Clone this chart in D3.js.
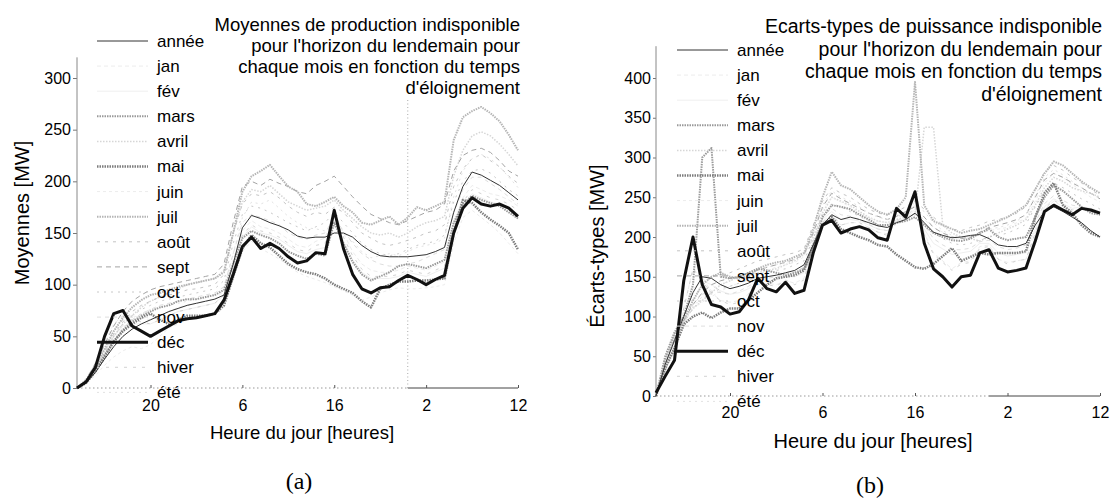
<!DOCTYPE html>
<html>
<head>
<meta charset="utf-8">
<script src="https://cdn.jsdelivr.net/npm/d3@7"></script>
<style>
  body { margin: 0; background: #fff; }
  text { font-family: "Liberation Sans", Arial, sans-serif; fill: #000; }
</style>
</head>
<body>
<svg id="chart" width="1110" height="503"></svg>
<script>
// Hours since the start of the forecast day (13h today ... 12h two days later)
const hours = [12,13,14,15,16,17,18,19,20,21,22,23,24,25,26,27,28,29,30,31,32,33,34,35,36,
               37,38,39,40,41,42,43,44,45,46,47,48,49,50,51,52,53,54,55,56,57,58,59,60];
const xTickHours = [20, 30, 40, 50, 60];
const xTickLabels = ["20", "6", "16", "2", "12"];
const seriesNames = ["année","jan","fév","mars","avril","mai","juin","juil","août","sept","oct","nov","déc","hiver","été"];
const meanTicks = [0, 50, 100, 150, 200, 250, 300];
const stdTicks = [0, 50, 100, 150, 200, 250, 300, 350, 400];

// Moyennes [MW]
const meanAnnee = [0,5,15,28,40,50,57,62,66, 70,74,77,80,82,84,86,90, 120,155,167,164,160,157,153,147, 145,146,146,150,150,146,138,132, 128,127,127,127,128,129,132,136, 170,195,209,206,201,196,189,182];
const meanJan   = [0,7,22,44,62,70,70,68,66, 70,74,78,80,82,84,86,94, 124,152,162,156,154,150,144,138, 136,142,145,170,150,132,120,114, 112,112,114,118,116,114,118,122, 160,184,196,192,188,186,182,176];
const meanFev   = [0,6,16,34,50,60,62,62,62, 66,70,74,76,78,80,82,90, 118,146,156,150,148,144,138,132, 130,134,136,162,142,124,112,106, 106,106,108,112,110,108,112,116, 152,176,188,184,180,178,174,168];
const meanMars  = [0,6,18,32,45,56,64,70,74, 78,80,84,86,86,88,90,95, 120,145,152,148,145,140,132,128, 125,130,128,160,140,122,110,104, 108,112,118,120,118,116,120,124, 160,178,186,182,179,176,170,164];
const meanAvril = [0,7,20,36,50,62,70,78,84, 88,92,96,100,102,104,106,114, 150,180,192,190,196,188,180,176, 172,174,176,182,172,164,156,150, 148,150,146,150,156,160,162,166, 205,230,244,248,244,236,226,215];
const meanMai   = [0,5,16,30,45,55,62,68,72, 66,62,66,70,70,70,72,80, 108,135,148,140,136,128,120,115, 112,110,106,100,96,92,84,78, 96,100,103,103,104,104,105,106, 150,182,179,170,163,157,150,134];
const meanJuin  = [0,4,12,22,30,36,40,38,42, 50,58,62,66,68,70,70,78, 105,132,142,135,130,125,118,112, 108,105,102,98,94,90,85,88, 92,95,97,96,96,97,98,100, 140,165,172,165,158,150,140,130];
const meanJuil  = [0,8,22,38,55,68,78,85,90, 92,95,98,100,102,104,106,112, 150,190,205,210,216,205,195,190, 178,176,180,185,176,170,160,158, 162,166,158,165,175,172,176,180, 240,262,268,272,266,258,245,230];
const meanAout  = [0,7,20,36,52,64,74,80,84, 88,90,92,95,96,98,100,110, 150,178,188,186,190,184,176,170, 166,170,168,175,170,160,150,145, 140,138,140,143,146,150,152,158, 195,212,222,226,220,214,205,198];
const meanSept  = [0,8,24,42,60,74,84,90,95, 98,100,102,104,106,108,110,120, 160,195,200,196,202,198,195,190, 188,196,200,205,195,185,176,168, 164,160,158,162,166,170,172,178, 210,225,230,232,228,220,210,205];
const meanOct   = [0,6,18,34,50,62,70,76,80, 84,86,88,90,92,94,96,104, 140,168,176,174,170,165,160,156, 152,156,160,170,160,150,140,134, 130,128,130,134,138,140,142,148, 180,200,210,212,208,200,192,186];
const meanNov   = [0,5,15,30,46,58,66,72,76, 80,82,84,86,88,90,92,98, 130,160,168,165,162,158,150,146, 144,148,150,165,152,140,130,124, 120,118,118,120,122,126,130,134, 170,192,204,204,198,192,185,178];
const meanDec   = [0,6,20,50,72,75,60,55,50, 55,60,65,67,68,70,72,85, 110,137,146,135,140,135,127,121, 123,131,130,172,135,110,96,92, 97,98,104,109,105,100,105,109, 150,174,184,178,176,178,174,166];
const meanHiver = [0,6,18,38,56,66,66,64,62, 66,70,74,76,78,80,82,90, 118,148,158,152,150,146,140,134, 132,138,140,168,146,128,115,108, 108,108,110,114,112,110,114,118, 156,180,192,188,184,182,178,172];
const meanEte   = [0,6,18,32,48,58,66,72,76, 78,80,82,84,86,88,90,98, 130,165,180,178,182,174,166,160, 155,154,152,156,150,142,132,126, 128,130,128,132,136,138,140,145, 185,210,222,226,222,214,204,194];

// Écarts-types [MW]
const stdAnnee = [0,40,70,100,130,150,148,140,135, 138,142,148,150,152,155,158,165, 190,215,228,222,225,222,218,214, 212,218,222,230,218,206,202,199, 200,202,203,198,190,188,188,192, 215,232,238,232,225,218,208,200];
const stdJan   = [0,30,60,110,160,150,130,120,118, 120,128,140,142,140,145,142,148, 190,220,228,215,218,218,212,206, 204,228,224,245,205,180,170,160, 168,170,188,190,172,168,170,172, 205,235,245,238,232,236,234,230];
const stdFev   = [0,35,65,100,135,145,140,132,128, 130,135,142,145,146,150,150,155, 192,222,232,222,222,220,215,210, 208,222,222,235,210,192,185,178, 180,182,192,192,180,176,178,180, 210,238,248,242,236,238,236,232];
const stdMars  = [0,50,80,100,140,300,312,150,148, 150,155,160,158,155,152,155,160, 185,225,240,238,235,228,222,215, 215,218,220,225,215,205,200,196, 195,198,205,210,200,196,198,200, 225,250,265,258,248,238,230,228];
const stdAvril = [0,40,70,95,110,120,130,140,145, 150,152,155,158,160,165,170,178, 200,230,250,245,240,232,225,220, 218,222,225,228,338,338,215,205, 200,198,195,200,205,210,215,222, 240,262,275,270,262,258,255,250];
const stdMai   = [0,35,60,90,100,105,98,105,110, 110,120,130,140,148,150,152,158, 190,215,225,210,205,200,196,190, 188,178,170,162,160,166,176,186, 170,175,180,178,180,180,180,182, 225,255,268,240,230,215,205,200];
const stdJuin  = [0,45,78,98,110,118,125,132,138, 142,146,152,158,162,165,168,175, 205,235,250,244,238,230,224,220, 218,220,224,230,222,212,206,200, 198,200,204,208,210,212,218,224, 245,268,280,275,266,258,250,244];
const stdJuil  = [0,45,75,95,120,140,150,155,150, 148,150,160,165,168,170,175,180, 210,250,282,265,260,250,240,232, 228,235,250,395,240,220,215,210, 205,208,210,215,220,225,232,240, 260,280,295,290,280,270,262,255];
const stdAout  = [0,45,78,100,120,140,150,152,155, 160,165,170,172,175,178,180,185, 215,245,262,255,250,242,235,230, 228,232,238,245,235,225,215,210, 208,212,215,220,222,225,230,238, 260,282,290,284,275,268,260,252];
const stdSept  = [0,40,72,95,115,130,140,145,148, 150,155,158,162,165,168,172,178, 205,238,255,248,242,236,230,226, 222,226,232,238,225,212,205,200, 198,200,206,212,215,218,222,228, 250,272,280,275,268,262,255,248];
const stdOct   = [0,38,68,92,110,122,130,135,138, 142,146,150,155,158,160,165,170, 198,228,242,238,232,226,220,215, 212,216,222,230,218,205,198,192, 190,192,196,200,202,205,210,216, 238,258,268,262,255,248,242,235];
const stdNov   = [0,34,62,90,115,128,132,130,128, 132,138,145,148,150,154,156,162, 195,225,236,228,226,222,216,210, 208,220,224,238,215,198,190,184, 184,186,194,196,188,184,186,190, 218,242,252,246,240,238,235,230];
const stdDec   = [4,25,45,145,200,140,115,112,103, 106,121,148,135,131,143,129,133, 180,215,221,205,210,213,209,199, 196,236,225,257,192,160,150,137, 150,152,180,184,161,156,158,161, 195,232,240,234,228,236,234,230];
const stdHiver = [0,32,58,110,160,145,128,120,115, 118,128,142,140,138,146,140,146, 188,218,228,215,218,218,212,206, 202,228,224,246,203,178,168,158, 166,168,186,188,172,166,170,172, 205,236,246,240,234,236,234,230];
const stdEte   = [0,42,74,96,112,125,135,140,145, 148,152,158,162,165,168,172,178, 208,240,258,250,245,238,230,225, 222,226,230,240,232,218,208,202, 200,202,204,210,212,215,220,228, 252,275,285,278,270,262,255,248];

const meanSeries = [meanAnnee, meanJan, meanFev, meanMars, meanAvril, meanMai, meanJuin,
                    meanJuil, meanAout, meanSept, meanOct, meanNov, meanDec, meanHiver, meanEte];
const stdSeries  = [stdAnnee, stdJan, stdFev, stdMars, stdAvril, stdMai, stdJuin,
                    stdJuil, stdAout, stdSept, stdOct, stdNov, stdDec, stdHiver, stdEte];

// Line appearance for each series (grey levels of the printed figure)
const lineStyle = {
  "année": { stroke: "#333",    width: 1,   dash: null },
  "jan":   { stroke: "#ececec", width: 1,   dash: "4,3" },
  "fév":   { stroke: "#efefef", width: 1,   dash: null },
  "mars":  { stroke: "#9a9a9a", width: 2,   dash: "1.5,1" },
  "avril": { stroke: "#d6d6d6", width: 1.5, dash: "1.5,1.5" },
  "mai":   { stroke: "#7d7d7d", width: 2.5, dash: "1.5,1" },
  "juin":  { stroke: "#ececec", width: 1,   dash: "3,3" },
  "juil":  { stroke: "#b5b5b5", width: 2,   dash: "1.5,1" },
  "août":  { stroke: "#c4c4c4", width: 1,   dash: "3,5" },
  "sept":  { stroke: "#a4a4a4", width: 1,   dash: "5,4" },
  "oct":   { stroke: "#c8c8c8", width: 1,   dash: "2,5" },
  "nov":   { stroke: "#dedede", width: 1,   dash: "4,4" },
  "déc":   { stroke: "#111",    width: 3,   dash: null },
  "hiver": { stroke: "#d2d2d2", width: 1,   dash: "3,6" },
  "été":   { stroke: "#e2e2e2", width: 1,   dash: "2,4" }
};
// faint lines first, strong ones on top
const drawOrder = ["jan","fév","avril","juin","août","sept","oct","nov","hiver","été","juil","mars","mai","année","déc"];

const svg = d3.select("#chart");

function drawPanel(o) {
  const g = svg.append("g");
  const x = d3.scaleLinear().domain([12, 60]).range([o.left, o.right]);
  const y = d3.scaleLinear().domain([0, o.refVal]).range([o.bottom, o.refY]);

  // y axis
  const ya = g.append("g").attr("transform", `translate(${o.left},0)`)
    .call(d3.axisLeft(y).tickValues(o.yTicks).tickSize(o.yTickSize).tickPadding(2).tickFormat(d3.format("d")));
  ya.select(".domain").remove();
  ya.selectAll(".tick line").attr("stroke", "#777");
  ya.selectAll(".tick text").style("font-size", "16px").style("font-family", "Liberation Sans, Arial, sans-serif");
  g.append("line").attr("x1", o.left).attr("x2", o.left)
    .attr("y1", y(o.yTop)).attr("y2", o.bottom).attr("stroke", "#888").attr("stroke-width", 1);

  // x axis: dotted until the second midnight, solid after
  g.append("line").attr("x1", o.left).attr("x2", x(48)).attr("y1", o.bottom).attr("y2", o.bottom)
    .attr("stroke", "#999").attr("stroke-dasharray", "1.5,2.5");
  g.append("line").attr("x1", x(48)).attr("x2", o.right).attr("y1", o.bottom).attr("y2", o.bottom)
    .attr("stroke", "#444");
  const xa = g.append("g").attr("transform", `translate(0,${o.bottom})`)
    .call(d3.axisBottom(x).tickValues(xTickHours).tickSize(0).tickPadding(o.xPad)
      .tickFormat((d, i) => xTickLabels[i]));
  xa.select(".domain").remove();
  xa.selectAll(".tick text").style("font-size", "16px").style("font-family", "Liberation Sans, Arial, sans-serif");
  xa.selectAll(".tick").append("line").attr("y1", 0).attr("y2", -3).attr("stroke", "#555");

  if (o.midnightLine) {
    g.append("line").attr("x1", x(48)).attr("x2", x(48)).attr("y1", 100).attr("y2", o.bottom)
      .attr("stroke", "#aaa").attr("stroke-dasharray", "1,2.5");
  }

  // curves
  const line = d3.line().x((d, i) => x(hours[i])).y(d => y(d));
  drawOrder.forEach(name => {
    const k = seriesNames.indexOf(name);
    const s = lineStyle[name];
    g.append("path").datum(o.series[k]).attr("d", line)
      .attr("fill", "none").attr("stroke", s.stroke).attr("stroke-width", s.width)
      .attr("stroke-dasharray", s.dash).attr("stroke-linejoin", "round");
  });

  // legend
  seriesNames.forEach((name, i) => {
    const ly = o.legY + i * 25.1;
    const s = lineStyle[name];
    g.append("line").attr("x1", o.legX).attr("x2", o.legX + 51).attr("y1", ly).attr("y2", ly)
      .attr("stroke", s.stroke).attr("stroke-width", s.width).attr("stroke-dasharray", s.dash);
    g.append("text").attr("x", o.legX + 60).attr("y", ly).attr("dy", "0.35em")
      .style("font-size", "17px").text(name);
  });

  // title
  o.title.forEach((t, i) => {
    g.append("text").attr("x", o.right + 2).attr("y", o.titleY + i * o.titleGap)
      .attr("text-anchor", "end").style("font-size", o.titleSize + "px").text(t);
  });

  // axis titles
  g.append("text").attr("transform", `translate(${o.yLabX},${o.yLabY}) rotate(-90)`)
    .attr("text-anchor", "middle").style("font-size", "20px").text(o.yLabel);
  g.append("text").attr("x", o.xLabX).attr("y", o.xLabY).attr("text-anchor", "middle")
    .style("font-size", o.xLabSize + "px").text("Heure du jour [heures]");

  g.append("text").attr("x", o.capX).attr("y", o.capY).attr("text-anchor", "middle")
    .style("font-size", "24px").style("font-family", "Liberation Serif, Times New Roman, serif").text(o.caption);
}

drawPanel({
  left: 77, right: 518, bottom: 388, refVal: 300, refY: 78, yTop: 320,
  yTicks: meanTicks, yTickSize: 4, xPad: 12, midnightLine: true,
  series: meanSeries, legX: 97, legY: 41,
  title: ["Moyennes de production indisponible", "pour l'horizon du lendemain pour",
          "chaque mois en fonction du temps", "d'éloignement"],
  titleY: 31, titleGap: 21, titleSize: 18.5,
  yLabel: "Moyennes [MW]", yLabX: 29, yLabY: 213,
  xLabX: 302, xLabY: 439, xLabSize: 18.5,
  caption: "(a)", capX: 299, capY: 489
});

drawPanel({
  left: 656, right: 1100, bottom: 396, refVal: 400, refY: 78, yTop: 440,
  yTicks: stdTicks, yTickSize: 3, xPad: 11, midnightLine: false,
  series: stdSeries, legX: 677, legY: 50,
  title: ["Ecarts-types de puissance indisponible", "pour l'horizon du lendemain pour",
          "chaque mois en fonction du temps", "d'éloignement"],
  titleY: 33, titleGap: 22.5, titleSize: 19.5,
  yLabel: "Écarts-types [MW]", yLabX: 604, yLabY: 246,
  xLabX: 873, xLabY: 448, xLabSize: 20,
  caption: "(b)", capX: 870, capY: 493
});
</script>
</body>
</html>
